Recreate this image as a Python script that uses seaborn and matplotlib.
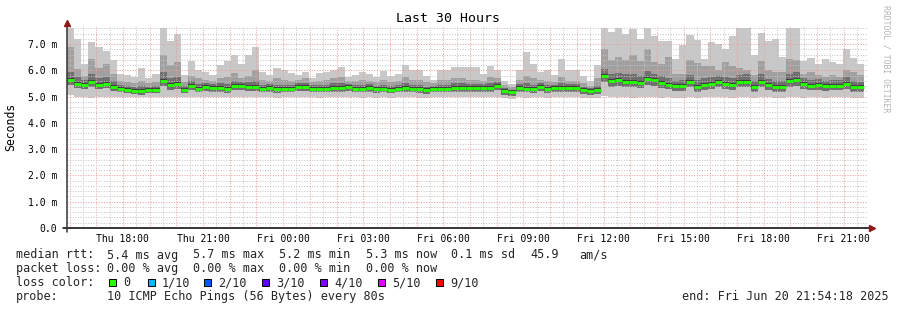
import numpy as np
import pandas as pd
import matplotlib
matplotlib.use("Agg")
import matplotlib.pyplot as plt
import matplotlib.dates as mdates
from matplotlib.ticker import MultipleLocator, FuncFormatter
from matplotlib.patches import Rectangle
import seaborn as sns

# ---------------- data ----------------
title = "Last 30 Hours"
y_label = "Seconds"
t_end = pd.Timestamp("2025-06-20 21:54:18")
span_hours = 30
step_minutes = 16

med = [5.64, 5.49, 5.43, 5.55, 5.46, 5.49, 5.36, 5.30, 5.24, 5.21, 5.20, 5.25, 5.25, 5.59, 5.43, 5.48, 5.25, 5.40, 5.30, 5.35,
       5.33, 5.33, 5.28, 5.40, 5.40, 5.35, 5.35, 5.30, 5.33, 5.28, 5.30, 5.30, 5.36, 5.36, 5.30, 5.30, 5.30, 5.33, 5.33, 5.36,
       5.30, 5.30, 5.33, 5.28, 5.30, 5.26, 5.30, 5.33, 5.30, 5.28, 5.24, 5.30, 5.30, 5.30, 5.33, 5.33, 5.33, 5.33, 5.33, 5.33,
       5.40, 5.20, 5.17, 5.33, 5.30, 5.28, 5.36, 5.28, 5.33, 5.33, 5.33, 5.33, 5.24, 5.20, 5.24, 5.77, 5.58, 5.62, 5.55, 5.55,
       5.51, 5.68, 5.62, 5.51, 5.46, 5.40, 5.40, 5.55, 5.37, 5.46, 5.49, 5.55, 5.49, 5.46, 5.55, 5.55, 5.37, 5.55, 5.43, 5.37,
       5.37, 5.58, 5.62, 5.48, 5.42, 5.46, 5.40, 5.42, 5.42, 5.49, 5.37, 5.35]

p_max = [7.62, 7.20, 6.24, 7.07, 6.88, 6.75, 6.40, 5.87, 5.83, 5.74, 6.08, 5.70, 5.87, 7.62, 7.11, 7.39, 5.81, 6.35, 6.02, 5.93,
         5.81, 6.21, 6.34, 6.57, 6.25, 6.57, 6.88, 5.93, 5.83, 6.08, 6.00, 5.90, 5.83, 5.93, 5.70, 5.90, 5.93, 6.03, 6.12, 5.74,
         5.81, 5.93, 5.87, 5.74, 5.97, 5.78, 5.87, 6.21, 6.00, 6.00, 5.78, 5.65, 6.00, 6.00, 6.12, 6.12, 6.12, 6.12, 5.87, 6.15,
         6.00, 5.61, 5.49, 6.00, 6.69, 6.25, 5.95, 6.00, 5.81, 6.44, 6.00, 6.00, 5.78, 5.61, 6.21, 7.62, 7.45, 7.62, 7.39, 7.58,
         7.20, 7.62, 7.32, 7.13, 7.10, 6.44, 6.97, 7.35, 7.15, 6.44, 7.07, 7.00, 6.82, 7.30, 7.62, 7.62, 6.60, 7.41, 7.10, 7.20,
         6.50, 7.62, 7.62, 6.35, 6.47, 6.25, 6.44, 6.31, 6.25, 6.82, 6.47, 6.25]

p_mid = [6.90, 6.05, 5.80, 6.45, 6.10, 6.25, 5.85, 5.60, 5.55, 5.50, 5.60, 5.50, 5.55, 6.60, 6.20, 6.30, 5.55, 5.80, 5.70, 5.65,
         5.60, 5.70, 5.75, 5.90, 5.70, 5.80, 6.00, 5.65, 5.60, 5.70, 5.65, 5.60, 5.65, 5.70, 5.55, 5.60, 5.65, 5.70, 5.75, 5.60,
         5.60, 5.65, 5.60, 5.55, 5.65, 5.55, 5.60, 5.75, 5.65, 5.65, 5.55, 5.50, 5.65, 5.65, 5.70, 5.70, 5.65, 5.65, 5.60, 5.75,
         5.70, 5.45, 5.35, 5.65, 5.80, 5.70, 5.65, 5.60, 5.55, 5.75, 5.60, 5.60, 5.50, 5.40, 5.70, 6.82, 6.40, 6.50, 6.40, 6.60,
         6.35, 6.80, 6.30, 6.25, 6.50, 5.87, 5.87, 6.40, 6.27, 6.18, 6.18, 6.00, 6.31, 6.18, 6.10, 6.00, 5.81, 6.34, 6.00, 5.95,
         5.93, 6.44, 6.40, 5.87, 5.93, 5.81, 5.74, 5.81, 5.74, 6.00, 5.93, 5.81]

p_near = [5.95, 5.75, 5.62, 5.85, 5.70, 5.75, 5.58, 5.45, 5.40, 5.36, 5.40, 5.38, 5.40, 5.95, 5.70, 5.75, 5.40, 5.58, 5.48, 5.50,
          5.47, 5.50, 5.48, 5.60, 5.55, 5.55, 5.60, 5.45, 5.47, 5.45, 5.46, 5.45, 5.50, 5.52, 5.44, 5.45, 5.46, 5.50, 5.50, 5.48,
          5.45, 5.46, 5.47, 5.42, 5.46, 5.40, 5.45, 5.50, 5.46, 5.44, 5.38, 5.42, 5.46, 5.46, 5.50, 5.50, 5.48, 5.48, 5.47, 5.52,
          5.55, 5.33, 5.27, 5.48, 5.50, 5.45, 5.50, 5.43, 5.46, 5.52, 5.47, 5.47, 5.38, 5.32, 5.42, 6.05, 5.85, 5.90, 5.85, 5.85,
          5.78, 5.98, 5.88, 5.80, 5.72, 5.60, 5.62, 5.82, 5.62, 5.70, 5.75, 5.78, 5.75, 5.72, 5.82, 5.85, 5.58, 5.85, 5.66, 5.60,
          5.60, 5.88, 5.92, 5.70, 5.64, 5.66, 5.60, 5.62, 5.62, 5.74, 5.58, 5.55]

p_low = [5.45, 5.32, 5.28, 5.38, 5.30, 5.33, 5.22, 5.16, 5.12, 5.10, 5.08, 5.12, 5.12, 5.40, 5.27, 5.30, 5.12, 5.24, 5.16, 5.20,
         5.18, 5.18, 5.14, 5.24, 5.25, 5.20, 5.20, 5.16, 5.18, 5.14, 5.16, 5.16, 5.20, 5.21, 5.16, 5.16, 5.16, 5.18, 5.18, 5.21,
         5.16, 5.16, 5.18, 5.14, 5.16, 5.12, 5.16, 5.18, 5.16, 5.14, 5.10, 5.16, 5.16, 5.16, 5.18, 5.18, 5.18, 5.18, 5.18, 5.18,
         5.24, 5.07, 5.03, 5.18, 5.16, 5.14, 5.21, 5.14, 5.18, 5.18, 5.18, 5.18, 5.10, 5.07, 5.10, 5.55, 5.38, 5.42, 5.36, 5.36,
         5.32, 5.46, 5.42, 5.32, 5.28, 5.22, 5.22, 5.35, 5.18, 5.27, 5.30, 5.35, 5.30, 5.27, 5.35, 5.35, 5.18, 5.35, 5.24, 5.18,
         5.18, 5.38, 5.42, 5.28, 5.24, 5.27, 5.21, 5.24, 5.24, 5.30, 5.18, 5.16]

p_min = [5.05, 5.00, 5.00, 4.93, 5.00, 5.00, 5.00, 4.98, 4.97, 4.97, 4.97, 4.98, 4.98, 5.00, 4.98, 5.00, 4.97, 5.00, 4.97, 4.98,
         4.97, 4.98, 4.97, 5.00, 5.00, 4.98, 4.97, 4.97, 4.98, 4.95, 4.97, 4.98, 4.97, 5.00, 4.97, 4.96, 4.98, 4.97, 4.98, 5.00,
         4.97, 4.96, 4.98, 4.95, 4.97, 4.96, 4.98, 4.97, 4.98, 4.96, 4.93, 4.97, 4.98, 4.97, 4.98, 4.98, 4.98, 4.97, 4.98, 4.97,
         5.00, 4.93, 4.90, 4.97, 4.96, 4.97, 5.00, 4.96, 4.98, 4.97, 4.98, 4.98, 4.95, 4.93, 4.95, 5.02, 5.00, 4.98, 4.97, 4.95,
         4.97, 5.00, 4.98, 4.96, 4.97, 4.95, 4.96, 4.98, 4.93, 4.97, 4.97, 4.98, 4.97, 4.95, 4.98, 4.97, 4.93, 4.98, 4.97, 4.95,
         4.93, 4.97, 5.00, 4.96, 4.97, 4.97, 4.95, 4.97, 4.97, 4.98, 4.95, 4.95]

rtt_label = "median rtt:"
rtt_stats = ["5.4 ms avg", "5.7 ms max", "5.2 ms min", "5.3 ms now", "0.1 ms sd", "45.9", "am/s"]
loss_label = "packet loss:"
loss_stats = ["0.00 % avg", "0.00 % max", "0.00 % min", "0.00 % now"]
color_label = "loss color:"
loss_labels = ["0", "1/10", "2/10", "3/10", "4/10", "5/10", "9/10"]
loss_colors = ["#26ff00", "#00b8ff", "#0059ff", "#5e00ff", "#7e00ff", "#dd00ff", "#ff0000"]
probe_label = "probe:"
probe_text = "10 ICMP Echo Pings (56 Bytes) every 80s"
end_text = "end: Fri Jun 20 21:54:18 2025"
credit = "RRDTOOL / TOBI OETIKER"

# ---------------- figure ----------------
sns.set_theme(style="white")
plt.rcParams["font.family"] = ["DejaVu Sans Mono"]

W, H = 897, 310
fig = plt.figure(figsize=(W / 100, H / 100), dpi=100)
fig.patch.set_facecolor("white")
L, R, T, B = 67, 868, 27, 228
ax = fig.add_axes([L / W, 1 - B / H, (R - L) / W, (B - T) / H])
ax.set_facecolor("white")

t_start = t_end - pd.Timedelta(hours=span_hours)
n = len(med)
starts = pd.date_range(t_start, periods=n, freq=f"{step_minutes}min")
ends = starts + pd.Timedelta(minutes=step_minutes)
x_edges = mdates.date2num(list(starts.to_pydatetime()) + [ends[-1].to_pydatetime()])


def ext(a):
    a = list(a)
    return np.array(a + [a[-1]])


ax.fill_between(x_edges, ext(p_min), ext(p_max), step="post", color="#c8c8c8", lw=0, zorder=1)
ax.fill_between(x_edges, ext(p_low), ext(p_mid), step="post", color="#a0a0a0", lw=0, zorder=1.1)
ax.fill_between(x_edges, ext(p_low), ext(p_near), step="post", color="#707070", lw=0, zorder=1.2)

# median as separate horizontal segments per bin
seg = pd.DataFrame({
    "t": np.concatenate([mdates.date2num(starts.to_pydatetime()), mdates.date2num(ends.to_pydatetime())]),
    "ms": np.concatenate([med, med]),
    "bin": np.concatenate([np.arange(n), np.arange(n)]),
})
sns.lineplot(data=seg, x="t", y="ms", units="bin", estimator=None, color="#404040",
             lw=2.9, ax=ax, zorder=4, solid_capstyle="butt", legend=False)
sns.lineplot(data=seg, x="t", y="ms", units="bin", estimator=None, color=loss_colors[0],
             lw=2.1, ax=ax, zorder=5, solid_capstyle="butt", legend=False)
ax.set_xlabel("")
ax.set_ylabel("")

ax.set_xlim(mdates.date2num(t_start.to_pydatetime()), mdates.date2num(t_end.to_pydatetime()))
ax.set_ylim(0, 7.65)

# ticks / grid
ax.yaxis.set_major_locator(MultipleLocator(1.0))
ax.yaxis.set_minor_locator(MultipleLocator(0.2))
ax.yaxis.set_major_formatter(FuncFormatter(lambda v, p: "0.0" if abs(v) < 1e-9 else f"{v:.1f} m"))
ax.xaxis.set_major_locator(mdates.HourLocator(interval=1))
ax.xaxis.set_minor_locator(mdates.MinuteLocator(byminute=[30]))


def xfmt(v, p):
    d = mdates.num2date(v)
    return d.strftime("%a %H:%M") if d.hour % 3 == 0 else ""


ax.xaxis.set_major_formatter(FuncFormatter(xfmt))
ax.tick_params(axis="y", which="both", length=0, labelsize=7, pad=7, colors="black")
ax.tick_params(axis="x", which="major", length=2.5, width=0.8, labelsize=7, pad=2, colors="black", direction="out")
ax.tick_params(axis="x", which="minor", length=0)

ax.set_axisbelow(False)
dot = (0, (1, 1.6))
ax.grid(True, which="minor", axis="both", color="#c4c4c4", lw=0.72, linestyle=dot, zorder=2.5)
ax.grid(True, which="major", axis="both", color="#f09a9a", lw=0.72, linestyle=dot, zorder=2.6)

for s in ax.spines.values():
    s.set_visible(False)

# axis lines with arrows
pw, ph = (R - L), (B - T)
ax.plot([-4 / pw, (871 - L) / pw], [0, 0], transform=ax.transAxes, color="black", lw=1.1, clip_on=False, zorder=6)
ax.plot([0, 0], [-4 / ph, (B - 23) / ph], transform=ax.transAxes, color="#333333", lw=1.1, clip_on=False, zorder=6)
ax.plot([0], [(B - 23) / ph], marker="^", ms=5, color="#8b1a1a", transform=ax.transAxes, clip_on=False, zorder=7)
ax.plot([(872 - L) / pw], [0], marker=">", ms=5, color="#8b1a1a", transform=ax.transAxes, clip_on=False, zorder=7)

# texts
fig.text(448 / W, 1 - 19 / H, title, ha="center", va="center", fontsize=9.5, color="black")
fig.text(11 / W, 1 - 127 / H, y_label, ha="center", va="center", rotation=90, fontsize=8.3, color="black")
fig.text(886 / W, 1 - 59 / H, credit, ha="center", va="center", rotation=270, fontsize=5.9, color="#b4b4b4")

fs = 8.5
rows = [255, 268.5, 282.5, 296.5]
fig.text(16 / W, 1 - rows[0] / H, rtt_label, ha="left", va="center", fontsize=fs)
for x, s in zip([107, 193, 279, 366, 451, 530, 579], rtt_stats):
    fig.text(x / W, 1 - rows[0] / H, s, ha="left", va="center", fontsize=fs)
fig.text(16 / W, 1 - rows[1] / H, loss_label, ha="left", va="center", fontsize=fs)
for x, s in zip([107, 193, 279, 366], loss_stats):
    fig.text(x / W, 1 - rows[1] / H, s, ha="left", va="center", fontsize=fs)
fig.text(16 / W, 1 - rows[2] / H, color_label, ha="left", va="center", fontsize=fs)
sq_x = [109, 148, 204, 262, 320, 378, 436]
for x, lab, c in zip(sq_x, loss_labels, loss_colors):
    fig.patches.append(Rectangle((x / W, 1 - (rows[2] + 3.5) / H), 7 / W, 7 / H, transform=fig.transFigure,
                                 facecolor=c, edgecolor="black", lw=0.7, figure=fig))
    fig.text((x + 14) / W, 1 - rows[2] / H, lab, ha="left", va="center", fontsize=fs)
fig.text(16 / W, 1 - rows[3] / H, probe_label, ha="left", va="center", fontsize=fs)
fig.text(107 / W, 1 - rows[3] / H, probe_text, ha="left", va="center", fontsize=fs)
fig.text(889 / W, 1 - rows[3] / H, end_text, ha="right", va="center", fontsize=fs)

fig.savefig("out.png", dpi=100, facecolor="white")
